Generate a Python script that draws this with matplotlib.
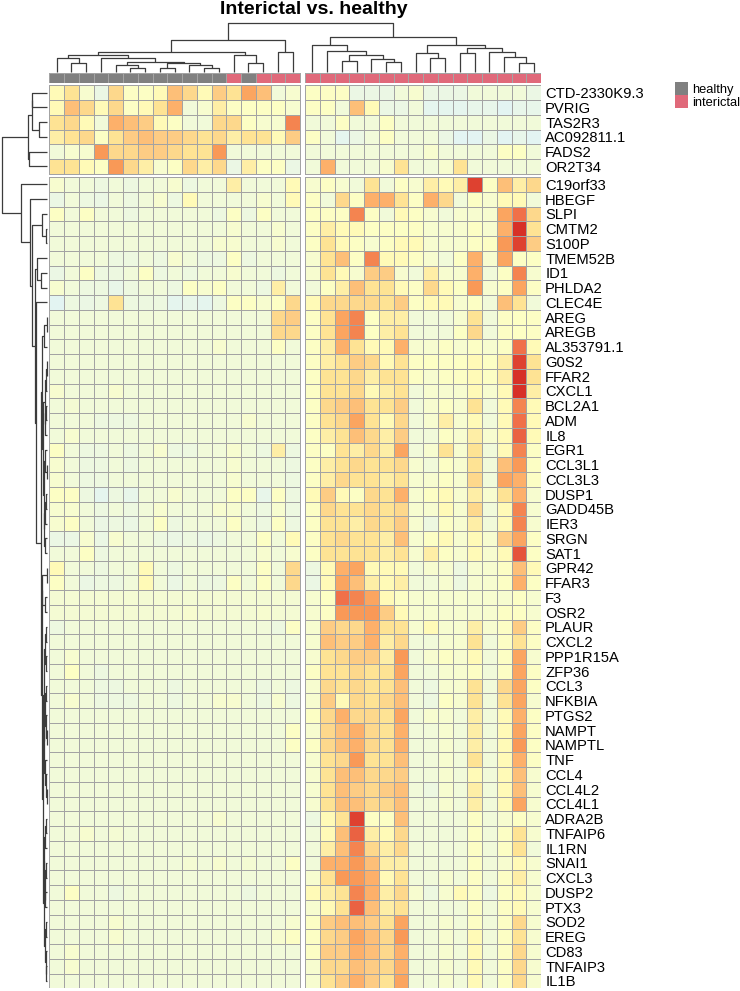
import numpy as np
import matplotlib
matplotlib.use('Agg')
import matplotlib.pyplot as plt
from matplotlib.colors import LinearSegmentedColormap, ListedColormap, Normalize

plt.rcParams['font.family'] = ['Liberation Sans', 'DejaVu Sans']

W, H = 740, 991

genes_top = ['CTD-2330K9.3', 'PVRIG', 'TAS2R3', 'AC092811.1', 'FADS2', 'OR2T34']
genes_bottom = ['C19orf33', 'HBEGF', 'SLPI', 'CMTM2', 'S100P', 'TMEM52B', 'ID1', 'PHLDA2',
                'CLEC4E', 'AREG', 'AREGB', 'AL353791.1', 'G0S2', 'FFAR2', 'CXCL1', 'BCL2A1',
                'ADM', 'IL8', 'EGR1', 'CCL3L1', 'CCL3L3', 'DUSP1', 'GADD45B', 'IER3', 'SRGN',
                'SAT1', 'GPR42', 'FFAR3', 'F3', 'OSR2', 'PLAUR', 'CXCL2', 'PPP1R15A', 'ZFP36',
                'CCL3', 'NFKBIA', 'PTGS2', 'NAMPT', 'NAMPTL', 'TNF', 'CCL4', 'CCL4L2', 'CCL4L1',
                'ADRA2B', 'TNFAIP6', 'IL1RN', 'SNAI1', 'CXCL3', 'DUSP2', 'PTX3', 'SOD2', 'EREG',
                'CD83', 'TNFAIP3', 'IL1B']

# sample annotation, left block = 17 samples, right block = 16 samples
groups = ['healthy'] * 12 + ['interictal', 'healthy'] + ['interictal'] * 3 + ['interictal'] * 16

# expression (colour level) per gene: 17 left samples then 16 right samples
vals_top = [
    [3, 4, 2, 1, 4.5, 2.5, 2.5, 3, 5.5, 4.5, 3, 5, 4, 6.5, 5.5, 1.5, 2, 2.5, 2.5, 2.5, 1, 1, 1, 1.5, 2, 1, 1, 1, 1.5, 1.5, 1.5, 1.5, 1],
    [3, 5.5, 4.5, 3, 4.5, 2.5, 3, 4, 6, 1.5, 2, 3.5, 2.5, 2.5, 2.5, 2.5, 2, 2.5, 2.5, 1.5, 5.5, 3, 1, 1, 1.5, 0.5, 0.5, 0.5, 0.7, 0.7, 0.3, 0.7, 0.7],
    [4, 4.5, 3, 1.5, 6, 5.5, 5, 3, 2.5, 1.5, 1.5, 4.5, 4.5, 2.5, 2, 2, 7.5, 1.5, 1.5, 2.5, 1.5, 1.5, 2.5, 1.5, 1.5, 1.5, 1.5, 1.5, 1.5, 1.5, 1.5, 1.5, 1.5],
    [3.5, 4, 4.5, 2.5, 4, 5, 5.5, 5, 5, 4.5, 4, 4.5, 3.5, 4, 4, 3, 5, 2.5, 1.5, 0.5, 1, 1.5, 2.5, 1.5, 1.5, 1.5, 1, 0.3, 0.3, 1, 0.3, 0.7, 0.3],
    [1.5, 2, 2, 7, 4.5, 4.5, 5, 5, 4.5, 4, 4, 7, 1.5, 1.5, 1.5, 1.5, 1.5, 1.5, 1.5, 1.5, 1.5, 1.5, 1.5, 1.5, 1.5, 2, 1.5, 1.5, 1.5, 1.5, 2.5, 2.5, 1.5],
    [4, 4, 3, 2.5, 7, 4.5, 3.5, 2, 2.5, 4.5, 3.5, 4.5, 1, 3.5, 2.5, 2.5, 1, 1.5, 6, 1.5, 1.5, 1.5, 2, 4, 1.5, 1.5, 2, 4, 1.5, 1.5, 1.5, 1.5, 1.5],
]

vals_bottom = [
    [2, 1.5, 1.5, 1.2, 1.5, 1.2, 1.5, 1.5, 2, 1.2, 1.5, 1.5, 3.5, 1.5, 1.5, 1.5, 3, 2, 2.5, 2, 1.5, 4, 1.5, 2.5, 2, 3.5, 3, 3.5, 9.5, 2.5, 5.5, 3.5, 4.5],
    [1, 1.5, 1.2, 1, 1.5, 1.2, 1.5, 2, 1.2, 3, 1.5, 1.5, 1.5, 1.5, 2, 1.5, 3, 2.5, 1.5, 4.5, 2.5, 6, 6, 4, 2.5, 6, 4.5, 1.5, 2.5, 2, 3, 3, 1.5],
    [2.5, 1.5, 2.5, 1.5, 1.5, 1.2, 1.5, 1.5, 1.5, 1.5, 1.5, 1.2, 2.5, 1.2, 2.5, 1.5, 1.5, 2.5, 2.5, 2.5, 7.5, 2.5, 1.5, 3, 2.5, 2, 1.5, 2, 2, 2, 6.5, 8, 4.5],
    [1.5, 1.5, 1.5, 1.5, 1.5, 1.5, 1.5, 1.5, 1.5, 1.5, 1.5, 1.5, 2, 1.5, 1.5, 2, 1.5, 2.5, 3.5, 3, 3, 2.5, 2.5, 2.5, 2.5, 2, 2, 2, 2.5, 2, 6, 10, 4],
    [1.5, 1.5, 1.5, 1.5, 1.5, 1.5, 1.5, 1.5, 1.5, 1.5, 1.5, 2, 2, 1.5, 1.5, 2, 1.5, 2.5, 4, 3, 2.5, 2, 2.5, 3, 3, 2, 2, 2, 2.5, 2.5, 7, 9.5, 5],
    [1.5, 1.5, 1.5, 1.5, 1.2, 1.2, 1.5, 1.2, 2, 1.5, 1.2, 1.2, 2.5, 1.2, 1.5, 1.5, 1.5, 2, 4, 5.5, 2.5, 7.5, 3, 3, 2.5, 2, 1.5, 2.5, 6, 2, 6.5, 2.5, 2.5],
    [1, 1.5, 2.5, 1.2, 1.2, 1.5, 2.5, 1.2, 1.5, 1.2, 1.5, 1.5, 2, 1.5, 1.5, 1.2, 1.5, 2, 4, 3, 2, 5, 5, 2, 1.5, 3.5, 2, 2, 6, 1.5, 2.5, 7.5, 2],
    [2, 1.5, 1.2, 1.2, 0.8, 1.2, 1.5, 1.5, 1.2, 2.5, 2, 2.5, 1.5, 1.5, 1.2, 3.5, 1.5, 1.5, 2.5, 3.5, 5.5, 4, 4, 3, 2.5, 4.5, 3, 2.5, 7, 2, 2.5, 6.5, 2.5],
    [0.3, 1.2, 1, 1.2, 4, 1.2, 1.2, 1.2, 0.5, 0.7, 0.5, 1.2, 2.5, 2.5, 2, 2.5, 4.5, 3, 4.5, 4.5, 4.5, 4.5, 4, 5, 2.5, 3, 3, 2, 2.5, 1.5, 5.5, 4, 1.5],
    [1.5, 1.5, 1.5, 1.5, 1.5, 1.5, 1.5, 1.5, 1.5, 1.5, 1.5, 1.5, 1.5, 1.5, 1.5, 4.5, 5, 2.5, 4, 6.5, 7.5, 2.5, 3.5, 3.5, 1.5, 1.5, 1.5, 2, 4, 1.5, 2.5, 2.5, 2.5],
    [1.5, 1.5, 1.5, 1.5, 1.5, 1.5, 1.5, 1.5, 1.5, 1.5, 1.5, 1.5, 1.5, 1.5, 1.5, 4.5, 4.5, 2.5, 4, 6.5, 7.5, 2.5, 3.5, 4, 1.5, 1.5, 1.5, 2.5, 4.5, 1.5, 2.5, 2.5, 2.5],
    [1.5, 1.5, 1.5, 1.5, 1.5, 1.5, 1.5, 1.5, 1.5, 1.5, 1.5, 2, 1.5, 1.5, 1.5, 2.5, 1.5, 2.5, 3.5, 6, 4, 3, 3, 6, 2, 2, 2.5, 2, 2.5, 2, 2.5, 8, 3],
    [1.5, 1.5, 1.5, 1.5, 1.5, 1.5, 1.5, 1.5, 1.5, 1.5, 1.5, 1.5, 1.5, 1.5, 1.5, 1.5, 1.5, 2.5, 3.5, 4, 5, 4.5, 3, 4, 2.5, 2.5, 2.5, 2.5, 3, 2.5, 3.5, 9.5, 4],
    [1.5, 1.5, 1.5, 1.5, 1.5, 1.5, 1.5, 1.5, 1.5, 1.5, 1.5, 1.5, 1.5, 1.5, 1.5, 1.5, 1.5, 2.5, 4, 4, 4.5, 3.5, 4, 4, 2.5, 2, 2.5, 2.5, 3, 2.5, 3.5, 10, 4],
    [2, 1.5, 1.5, 1.5, 2, 1.5, 1.5, 1.5, 1.5, 1.5, 1.5, 1.5, 1.5, 1.5, 1.5, 1.5, 1.5, 2.5, 4, 4, 4.5, 3, 3.5, 4, 1.5, 2, 2, 2, 3, 2, 3, 10, 3.5],
    [1.5, 1.8, 1.5, 1.5, 1.5, 1.5, 1.5, 1.5, 1.5, 1.5, 1.5, 1.5, 1.5, 1.5, 1.5, 1.5, 1.5, 2.5, 4.5, 5, 5.5, 4, 4, 5, 1.5, 2, 2.5, 2, 4, 1.5, 3, 7.5, 3],
    [1.5, 1.5, 1.5, 1.2, 1.2, 1.2, 1.5, 1.5, 1.5, 1.5, 1.5, 1.5, 1.5, 2, 1.5, 1.5, 1.5, 2.5, 4, 4.5, 6.5, 4, 3, 4.5, 1.5, 2, 3.5, 2, 3, 1.5, 3, 8, 3],
    [1.5, 2, 1.5, 1.5, 1.5, 1.5, 1.5, 1.5, 1.5, 1.5, 1.5, 1.5, 1.5, 1.5, 1.5, 1.5, 1.5, 2.5, 3.5, 4, 5.5, 4.5, 3.5, 5, 1.5, 1.5, 2.5, 2, 3.5, 2, 3, 8.5, 3],
    [2.5, 1.5, 1.2, 1.2, 1.5, 1.2, 1.5, 2, 1.2, 1.2, 1.5, 1.5, 2, 1.5, 1.2, 3.5, 1.2, 2.5, 2.5, 4, 3.5, 4.5, 3.5, 6.5, 1.5, 2, 4, 2, 4, 1.5, 3, 7.5, 2.5],
    [2, 1.5, 1.2, 1.2, 1.5, 1.2, 1.5, 1.5, 1.5, 1.5, 1.5, 1.5, 2, 1.5, 1.5, 1.5, 1.2, 2.5, 3.5, 4, 4.5, 4, 4, 4.5, 2, 1.5, 2.5, 2, 4, 1.5, 5.5, 7, 2.5],
    [2, 1.5, 1.2, 1.2, 1.5, 1.5, 1.5, 1.5, 1.5, 1.5, 1.5, 1.5, 2, 1.5, 1.5, 1.5, 1.2, 2.5, 3.5, 4.5, 4, 4, 3.5, 4, 2, 2, 2.5, 2, 4.5, 1.5, 6.5, 6, 2.5],
    [2.5, 2.5, 1.2, 0.5, 1.2, 0.7, 1.5, 1.5, 2, 1.5, 1.5, 1.5, 2.5, 2.5, 0.7, 2.5, 1.2, 3, 5, 3, 2.5, 4.5, 4, 6, 2, 2.5, 3, 2, 3.5, 2, 4, 6, 2],
    [2, 2, 1.5, 1.2, 1.5, 1.2, 1.5, 2, 1.5, 1.5, 1.5, 2, 2, 1.5, 1.2, 2, 1.2, 2.5, 4.5, 4, 4, 4.5, 4, 4.5, 2, 2, 3, 2, 4.5, 1.5, 3, 7.5, 2],
    [2, 2.5, 1.5, 1, 1.2, 1, 1.5, 2.5, 1.2, 1.5, 1.5, 1.5, 2.5, 1.5, 1.2, 2.5, 1.2, 2.5, 4, 4, 3.5, 4.5, 4, 5, 2, 1.2, 2.5, 2, 3.5, 1.5, 3, 7.5, 2],
    [1, 1, 2, 1, 2, 1.5, 1.5, 1.2, 1, 1.2, 1, 1.2, 1.5, 1.5, 2.5, 1.5, 3, 2.5, 4, 4.5, 4, 4, 3.5, 5.5, 2, 2.5, 3, 2, 3, 2, 5, 6.5, 2.5],
    [1.5, 1.5, 2.5, 1.2, 1.5, 1.5, 1.5, 1.5, 1.5, 1.5, 1.5, 1.5, 1.5, 1.5, 2, 1.5, 2, 2.5, 4, 4, 4, 4, 3.5, 4, 2, 3.5, 2.5, 2, 3, 2, 3, 9, 2.5],
    [3, 1.5, 1.5, 1.2, 1.5, 1.5, 3, 1.5, 1.2, 1.5, 1.5, 1.5, 1.5, 1.5, 2.5, 1.5, 4.5, 1.2, 3, 6, 6.5, 3, 3, 3, 1.5, 2, 2, 1.2, 2, 2, 2.5, 5.5, 3],
    [2.5, 1.5, 1, 1.2, 1.2, 1.5, 3, 1.5, 1, 1.5, 1.2, 1.2, 2.5, 1.5, 2.5, 1.5, 4.5, 1, 3, 6.5, 5.5, 3.5, 3, 3.5, 1.5, 1.5, 2, 1.2, 2, 2, 2.5, 6, 2.5],
    [1.8, 1.8, 1.8, 1.8, 1.8, 1.8, 1.8, 1.8, 1.8, 1.8, 1.8, 1.8, 1.8, 1.8, 1.8, 1.8, 1.8, 2, 2.5, 8, 7.5, 6.5, 3, 2.5, 2, 2, 2, 2, 2, 2, 2, 2.5, 2],
    [1.8, 1.8, 1.8, 1.8, 1.8, 1.8, 1.8, 1.8, 1.8, 2, 1.8, 1.8, 1.8, 1.8, 2, 1.8, 1.8, 2, 2.5, 7, 7, 7, 5, 3, 2, 2, 2, 2, 2, 2, 2.5, 2.5, 2],
    [1.2, 1.5, 1.5, 1.5, 1.5, 1.5, 1.5, 1.5, 1.5, 1.5, 1.5, 1.5, 1.5, 1.5, 1.5, 1.2, 2.5, 2, 5, 4.5, 4.5, 6, 4, 4, 2, 3, 2, 2, 3.5, 2, 2.5, 5, 2.5],
    [1.5, 1.5, 1.5, 1.5, 1.5, 1.5, 1.5, 1.5, 1.5, 1.5, 1.5, 1.5, 1.5, 1.5, 1.5, 1.5, 1.5, 2, 5.5, 5, 5, 6, 3.5, 4.5, 1.5, 1.5, 2, 2, 4, 1.5, 2.5, 4, 2.5],
    [1.5, 2, 1.5, 1.5, 1.5, 1.5, 1.5, 1.5, 1.5, 1.5, 1.5, 1.5, 1.5, 1.5, 1.5, 1.5, 1.5, 2, 4, 4.5, 5, 5, 3.5, 7, 1.5, 2, 2.5, 2, 3, 1.5, 2.5, 6.5, 2],
    [1.5, 2.5, 1.5, 1.2, 1.5, 1.5, 1.5, 1.5, 1.5, 1.5, 1.5, 1.5, 1.5, 1.5, 1.5, 1.5, 1.5, 2.5, 4, 4, 4.5, 4, 4, 6.5, 1.5, 1.5, 2, 2, 2.5, 1.5, 2.5, 6.5, 2.5],
    [1.5, 1.5, 1.5, 1.2, 1.2, 1.5, 1.5, 1.5, 1.2, 1.5, 1.5, 1.5, 1.5, 1.5, 1.2, 1.5, 1.2, 2, 4.5, 4, 4.5, 4, 4, 5.5, 1.5, 1.2, 2, 2, 4, 1.5, 4.5, 6.5, 2.5],
    [1.5, 2, 1.5, 1.2, 1.2, 1.2, 1.5, 1.5, 1.2, 1.5, 1.5, 2, 2, 1.5, 1.2, 2, 1.2, 2, 5, 3, 4.5, 4, 4.5, 5.5, 1.5, 1.2, 2.5, 2, 4, 1.5, 4, 6.5, 2],
    [1.5, 1.5, 1.5, 1.5, 1.5, 1.5, 1.5, 1.5, 1.5, 1.5, 1.5, 1.5, 1.5, 1.5, 1.5, 1.5, 1.5, 2.5, 4.5, 6, 4.5, 4.5, 4, 6.5, 1.5, 2, 2, 1.5, 3.5, 1.5, 3, 6, 2.5],
    [1.5, 1.5, 1.5, 1.5, 1.5, 1.5, 1.5, 1.5, 1.5, 1.5, 1.5, 1.5, 1.5, 1.5, 1.5, 1.5, 2.5, 2, 4.5, 5.5, 6, 4.5, 4, 6, 1.5, 1.5, 2, 1.5, 3.5, 1.5, 3, 6.5, 2.5],
    [1.5, 1.5, 1.5, 1.5, 1.5, 1.5, 1.5, 1.5, 1.5, 1.5, 1.5, 1.5, 1.5, 1.5, 1.5, 1.5, 2.5, 2.5, 4.5, 5.5, 6, 4.5, 4, 6, 1.5, 1.5, 2, 1.5, 3.5, 1.5, 3, 7, 2.5],
    [1.5, 1.5, 1.5, 1.5, 1.5, 1.5, 1.5, 1.5, 1.5, 1.5, 1.5, 1.5, 1.5, 1.5, 1.5, 1.5, 1.5, 2, 4, 4.5, 7, 4, 4, 5.5, 1.5, 1.5, 2, 1.5, 4, 1.5, 3, 6, 2.5],
    [1.5, 1.5, 1.5, 1.5, 1.5, 1.5, 1.5, 1.5, 1.5, 1.5, 1.5, 1.5, 1.5, 1.5, 1.5, 1.5, 1.5, 2, 4, 5.5, 5.5, 4.5, 4.5, 5, 1.5, 1.5, 2, 1.5, 3, 1.5, 3, 5.5, 2],
    [1.5, 1.5, 1.5, 1.5, 1.5, 1.5, 1.5, 1.5, 1.5, 1.5, 1.5, 1.5, 1.5, 1.5, 1.5, 1.5, 1.5, 2, 4, 5.5, 5, 4.5, 5, 5.5, 1.5, 1.2, 2, 1.5, 3.5, 1.5, 3, 5.5, 2],
    [1.5, 1.5, 1.5, 1.5, 1.5, 1.5, 1.5, 1.5, 1.5, 1.5, 1.5, 1.5, 1.5, 1.5, 1.5, 1.5, 1.5, 2, 4, 5.5, 5.5, 4.5, 4.5, 5.5, 1.5, 1.5, 2, 1.5, 3.5, 1.5, 3, 6.5, 2],
    [1.5, 1.5, 1.5, 1.5, 1.5, 1.5, 1.5, 1.5, 1.5, 1.5, 1.5, 2, 1.5, 1.5, 1.5, 1.5, 1.5, 1.2, 3, 4, 9.5, 2.5, 2.5, 5.5, 1.5, 1.5, 1.5, 1.5, 2.5, 1.5, 2, 2.5, 2],
    [1.5, 1.5, 2, 1.5, 1.8, 1.5, 1.5, 1.5, 1.5, 1.5, 1.5, 1.5, 1.5, 1.5, 1.5, 1.5, 1.5, 1.5, 3, 5.5, 8.5, 3.5, 3, 4.5, 1.5, 1.5, 1.5, 1.5, 2.5, 1.5, 2.5, 4, 2],
    [1.5, 1.5, 1.5, 1.5, 1.5, 1.5, 1.5, 1.5, 1.5, 1.5, 1.5, 1.5, 1.5, 1.5, 1.5, 1.5, 1.5, 1.5, 3.5, 5.5, 7.5, 4.5, 3.5, 4.5, 1.5, 1.5, 1.5, 1.5, 2.5, 1.5, 2.5, 4, 1.5],
    [1.5, 1.5, 1.5, 1.5, 1.5, 1.5, 1.5, 1.5, 1.5, 1.8, 1.5, 2, 1.5, 1.8, 1.5, 1.5, 2.5, 1.5, 6, 6, 7, 5.5, 3.5, 3.5, 1.5, 1.5, 1.5, 1.5, 2.5, 1.5, 2, 3, 2],
    [1.5, 1.5, 1.5, 1.5, 1.5, 1.5, 1.5, 1.5, 1.5, 1.5, 1.5, 1.5, 1.5, 1.5, 1.5, 1.5, 1.5, 2, 4, 7, 7, 6, 3, 4, 1.5, 1.5, 2, 1.5, 2.5, 1.5, 2.5, 3.5, 2],
    [1.5, 2.5, 1.5, 1.5, 1.2, 1.5, 1.5, 1.5, 1.5, 1.5, 1.5, 1.5, 1.5, 1.2, 1.5, 1.5, 1.5, 3, 3.5, 4, 7.5, 6, 3.5, 4.5, 2, 1.2, 2, 3, 2.5, 1.2, 2.5, 3, 2],
    [1.5, 1.5, 1.5, 1.5, 1.5, 1.5, 1.5, 1.5, 1.5, 1.5, 1.5, 1.5, 1.5, 1.5, 1.5, 1.5, 1.5, 2, 3, 4, 8.5, 5.5, 3.5, 4, 1.5, 1.5, 1.5, 1.5, 2.5, 1.5, 2.5, 3, 2],
    [1.5, 1.5, 1.5, 1.5, 2, 1.5, 1.5, 1.5, 1.5, 1.5, 1.5, 1.5, 1.5, 1.5, 1.5, 1.5, 2, 2.5, 5, 5.5, 5.5, 5, 4, 6.5, 1.5, 1.5, 2, 1.5, 2.5, 1.5, 2.5, 4.5, 2],
    [1.5, 1.5, 1.5, 1.5, 2, 1.5, 1.5, 1.5, 1.5, 1.5, 1.5, 1.5, 1.5, 1.5, 1.5, 2, 2.5, 2.5, 4.5, 5, 6.5, 5.5, 4.5, 7, 1.5, 1.5, 2, 1.5, 3, 1.5, 2.5, 4, 2],
    [1.5, 2, 1.5, 1.5, 1.5, 1.5, 1.5, 1.5, 1.5, 1.5, 1.5, 1.5, 1.5, 1.5, 1.5, 1.5, 1.5, 2.5, 5, 5, 6, 5.5, 4.5, 6, 1.5, 1.5, 2, 1.5, 3, 1.5, 2.5, 4.5, 2],
    [1.5, 2, 1.5, 1.5, 1.5, 1.5, 1.5, 1.5, 1.5, 1.5, 1.5, 1.5, 1.5, 1.5, 1.5, 1.5, 1.5, 2, 4.5, 4.5, 5.5, 5, 4.5, 6, 1.5, 1.5, 2, 1.5, 3, 1.5, 2.5, 4.5, 2],
    [1.5, 1.5, 1.5, 1.5, 1.5, 1.5, 1.5, 1.5, 1.5, 1.5, 1.5, 1.5, 1.5, 1.5, 1.5, 1.5, 1.5, 2, 4, 5, 6, 5, 4, 6.5, 1.5, 1.5, 2, 1.5, 3, 1.5, 2.5, 4.5, 2],
]

# column clustering (leaf = sample index, node = (left, right, height))
col_tree = (
    ((((0, (1, 2, 8.4), 13.4), (3, ((4, (5, 6, 4.0), 6.7), ((7, 8, 4.0), (9, (10, 11, 4.0), 6.7), 8.4), 10.0), 13.4), 16.7),
      (12, (13, 14, 8.4), 16.7), 19.4),
     (15, 16, 20.0), 31.7),
    ((17, (18, ((19, 20, 10.7), (21, (22, 23, 9.4), 12.4), 16.7), 21.0), 26.7),
     ((24, (25, 26, 13.4), 18.4), ((27, 28, 18.4), (29, (30, (31, 32, 8.4), 14.4), 20.0), 23.4), 26.7), 34.4),
    48.4)

# row clustering; bottom-group leaves are offset by 6
t = (((((0, 1, 14.7), (2, 3, 8.0), 15.3), (4, 5, 18.5), 19.3)))
def b(i):
    return i + 6
bA = (((b(9), b(10), 0.5), b(11), 3.0),
      ((((b(12), b(13), 0.5), b(14), 1.0), ((b(15), b(16), 1.5), b(17), 2.0), 2.5),
       ((b(18), (b(19), b(20), 0.3), 2.5), (((b(21), b(22), 1.5), b(23), 2.0), (b(24), b(25), 2.5), 3.0), 3.5), 4.0), 5.0)
bB = (((b(26), b(27), 0.5), (b(28), b(29), 2.5), 5.0),
      ((((b(30), b(31), 1.5), (b(32), b(33), 1.0), 2.0),
        (((b(34), b(35), 1.5), (b(36), (b(37), b(38), 0.3), 1.5), 2.2), (b(39), (b(40), (b(41), b(42), 0.5), 1.0), 1.8), 2.6), 3.0),
       ((((b(43), b(44), 1.5), b(45), 2.0), ((b(46), b(47), 1.5), (b(48), b(49), 1.8), 2.3), 2.8),
        ((b(50), b(51), 1.2), (b(52), (b(53), b(54), 0.8), 1.2), 1.8), 3.5), 3.7), 5.5)
bottom_tree = (b(0), (b(1), ((b(2), (b(3), b(4), 0.7), 4.7),
                             ((b(5), (b(6), b(7), 6.3), 10.0), (b(8), (bA, bB, 6.3), 11.0), 12.0), 14.7), 17.0), 26.3)
row_tree = (t, bottom_tree, 45.3)

# ---- layout (pixels) ----
col_gap, row_gap = 0.34, 0.22
n_left, n_top = 17, 6
data = np.array(vals_top + vals_bottom)
n_rows, n_cols = data.shape
col_pos = np.array([i + 0.5 + (col_gap if i >= n_left else 0) for i in range(n_cols)])
row_pos = np.array([i + 0.5 + (row_gap if i >= n_top else 0) for i in range(n_rows)])
x_tot = n_cols + col_gap
y_tot = n_rows + row_gap

hm_x0, hm_x1, hm_y0, hm_y1 = 49.3, 541.1, 85.3, 988.3

fig = plt.figure(figsize=(W / 100, H / 100), dpi=100)

def px_axes(x0, y0, x1, y1):
    return fig.add_axes([x0 / W, 1 - y1 / H, (x1 - x0) / W, (y1 - y0) / H])

cmap = LinearSegmentedColormap.from_list('rdylbu', [
    (0.0, '#E0F3F8'), (0.275, '#FFFFBF'), (0.4, '#FEE394'), (0.5, '#FDCD85'),
    (0.6, '#FDB06A'), (0.7, '#F99A57'), (0.8, '#F07049'), (0.9, '#E5553B'), (1.0, '#D73027')])
norm = Normalize(0, 10)
grid_kw = dict(cmap=cmap, norm=norm, edgecolors='#a3a3a3', linewidth=0.7)

ax = px_axes(hm_x0, hm_y0, hm_x1, hm_y1)
xl = np.arange(n_left + 1)
xr = np.arange(n_cols - n_left + 1) + n_left + col_gap
yt = np.arange(n_top + 1)
yb = np.arange(n_rows - n_top + 1) + n_top + row_gap
ax.pcolormesh(xl, yt, data[:n_top, :n_left], **grid_kw)
ax.pcolormesh(xr, yt, data[:n_top, n_left:], **grid_kw)
ax.pcolormesh(xl, yb, data[n_top:, :n_left], **grid_kw)
ax.pcolormesh(xr, yb, data[n_top:, n_left:], **grid_kw)
ax.set_xlim(0, x_tot)
ax.set_ylim(y_tot, 0)
ax.set_xticks([])
ax.yaxis.tick_right()
ax.set_yticks(row_pos)
ax.set_yticklabels(genes_top + genes_bottom, fontsize=10.6)
ax.tick_params(axis='y', length=0, pad=2.9)
for s in ax.spines.values():
    s.set_visible(False)

# annotation bar
ann_colors = {'healthy': '#808080', 'interictal': '#E0697A'}
ann_cmap = ListedColormap([ann_colors['healthy'], ann_colors['interictal']])
ann = np.array([[0 if g == 'healthy' else 1 for g in groups]], dtype=float)
ax_a = px_axes(hm_x0, 72.7, hm_x1, 82.7)
ax_a.pcolormesh(xl, [0, 1], ann[:, :n_left], cmap=ann_cmap, vmin=0, vmax=1, edgecolors='#a3a3a3', linewidth=0.5)
ax_a.pcolormesh(xr, [0, 1], ann[:, n_left:], cmap=ann_cmap, vmin=0, vmax=1, edgecolors='#a3a3a3', linewidth=0.5)
ax_a.set_xlim(0, x_tot)
ax_a.set_ylim(1, 0)
ax_a.axis('off')

# dendrograms
line_kw = dict(color='#3c3c3c', lw=0.9, solid_capstyle='butt', clip_on=False)

def draw_tree(axd, node, pos, vertical):
    if isinstance(node, int):
        return pos[node], 0.0
    left, right, h = node
    pl, hl = draw_tree(axd, left, pos, vertical)
    pr, hr = draw_tree(axd, right, pos, vertical)
    if vertical:
        axd.plot([pl, pl, pr, pr], [hl, h, h, hr], **line_kw)
    else:
        axd.plot([hl, h, h, hr], [pl, pl, pr, pr], **line_kw)
    return (pl + pr) / 2, h

ax_c = px_axes(hm_x0, 20, hm_x1, 71.7)
draw_tree(ax_c, col_tree, col_pos, True)
ax_c.set_xlim(0, x_tot)
ax_c.set_ylim(0, 51.7)
ax_c.axis('off')

ax_r = px_axes(0, hm_y0, 47, hm_y1)
draw_tree(ax_r, row_tree, row_pos, False)
ax_r.set_xlim(47, 0)
ax_r.set_ylim(y_tot, 0)
ax_r.axis('off')

# legend
ax_l = px_axes(675, 81.7, 688.2, 108.1)
ax_l.pcolormesh([0, 1], [0, 1, 2], np.array([[0], [1]]), cmap=ann_cmap, vmin=0, vmax=1)
ax_l.set_xlim(0, 1)
ax_l.set_ylim(2, 0)
ax_l.set_xticks([])
ax_l.yaxis.tick_right()
ax_l.set_yticks([0.5, 1.5])
ax_l.set_yticklabels(['healthy', 'interictal'], fontsize=9.3)
ax_l.tick_params(axis='y', length=0, pad=2.9)
for s in ax_l.spines.values():
    s.set_visible(False)

fig.text(313.4 / W, 1 - 9 / H, 'Interictal vs. healthy', ha='center', va='center',
         fontsize=14, fontweight='bold')

fig.savefig('out.png', dpi=100)
